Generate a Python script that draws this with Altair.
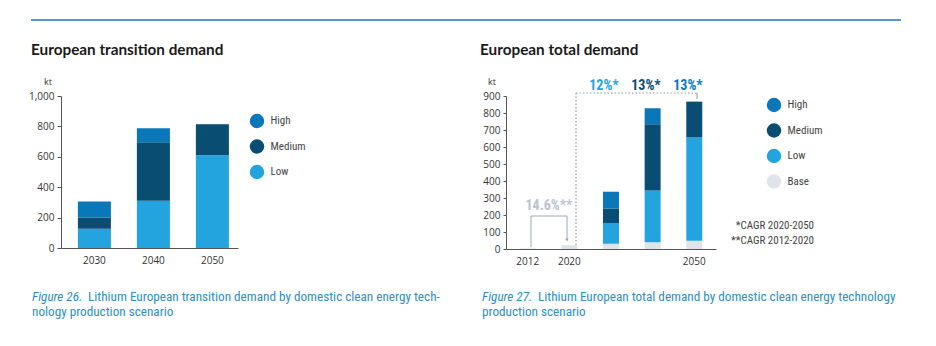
import altair as alt
import pandas as pd

# ---------------- data ----------------
left_years = ["2030", "2040", "2050"]
left_low = [127, 311, 610]
left_medium = [74, 385, 204]
left_high = [105, 92, 0]

right_years = ["2012", "2020", "2030", "2040", "2050"]
right_base = [3, 23, 31, 39, 49]
right_low = [0, 0, 122, 305, 608]
right_medium = [0, 0, 84, 390, 210]
right_high = [0, 0, 100, 94, 0]

scen_left = ["High", "Medium", "Low"]
scen_right = ["High", "Medium", "Low", "Base"]
scen_colors = {"High": "#0a77b8", "Medium": "#0a4d73", "Low": "#23a4de", "Base": "#dfe4ea"}
stack_order = {"Base": 0, "Low": 1, "Medium": 2, "High": 3}

cagr_labels = ["12%*", "13%*", "13%*"]
cagr_colors = ["#23a4de", "#0a4d73", "#0a77b8"]

left_rows = []
for i, yr in enumerate(left_years):
    for s, vals in (("Low", left_low), ("Medium", left_medium), ("High", left_high)):
        left_rows.append({"year": yr, "scenario": s, "value": vals[i], "ord": stack_order[s]})
left_df = pd.DataFrame(left_rows)

right_rows = []
for i, yr in enumerate(right_years):
    for s, vals in (("Base", right_base), ("Low", right_low), ("Medium", right_medium), ("High", right_high)):
        right_rows.append({"year": yr, "scenario": s, "value": vals[i], "ord": stack_order[s]})
right_df = pd.DataFrame(right_rows)

NUM_FONT = "Open Sans"
NARROW = "Liberation Sans Narrow, Roboto Condensed, Roboto, sans-serif"
TITLE_FONT = "Lato"

legend_common = dict(
    orient="none", title=None, symbolType="circle", symbolSize=210,
    symbolStrokeWidth=0, labelFont=NARROW, labelFontSize=11, labelColor="#444444",
    labelOffset=6, rowPadding=10.5, padding=0, symbolOpacity=1,
)

# ---------------- left panel ----------------
left_bars = alt.Chart(left_df).mark_bar().encode(
    x=alt.X("year:N", sort=left_years,
            scale=alt.Scale(range=[61, 238], paddingInner=0.44, paddingOuter=0.22, align=0.65),
            axis=alt.Axis(orient="bottom", offset=-98, title=None, labelAngle=0, ticks=False,
                          domainColor="#555555", labelFont=NUM_FONT, labelFontSize=10,
                          labelColor="#333333", labelPadding=7)),
    y=alt.Y("value:Q", stack="zero",
            scale=alt.Scale(domain=[0, 1000], range=[248, 96], nice=False),
            axis=alt.Axis(orient="left", offset=-61, title=None, values=[0, 200, 400, 600, 800, 1000],
                          format=",.0f", tickSize=4, tickColor="#555555", domainColor="#555555",
                          labelPadding=3, grid=False, labelFont=NUM_FONT, labelFontSize=10,
                          labelColor="#333333")),
    color=alt.Color("scenario:N",
                    scale=alt.Scale(domain=scen_left, range=[scen_colors[s] for s in scen_left]),
                    legend=alt.Legend(legendX=249.5, legendY=113.5, **legend_common)),
    order=alt.Order("ord:Q", sort="ascending"),
)

# ---------------- right panel ----------------
right_bars = alt.Chart(right_df).mark_bar().encode(
    x=alt.X("year:N", sort=right_years,
            scale=alt.Scale(range=[506, 716], paddingInner=0.616, paddingOuter=0.33),
            axis=alt.Axis(orient="bottom", offset=-97, title=None, labelAngle=0, ticks=False,
                          domainColor="#555555", labelFont=NUM_FONT, labelFontSize=10,
                          labelColor="#333333", labelPadding=7,
                          labelExpr="(datum.value == '2030' || datum.value == '2040') ? '' : datum.value")),
    y=alt.Y("value:Q", stack="zero",
            scale=alt.Scale(domain=[0, 900], range=[249, 96], nice=False),
            axis=alt.Axis(orient="left", offset=-506, title=None,
                          values=[0, 100, 200, 300, 400, 500, 600, 700, 800, 900],
                          tickSize=3, tickColor="#555555", domainColor="#555555",
                          labelPadding=3, grid=False, labelFont=NUM_FONT, labelFontSize=10,
                          labelColor="#333333")),
    color=alt.Color("scenario:N",
                    scale=alt.Scale(domain=scen_right, range=[scen_colors[s] for s in scen_right]),
                    legend=alt.Legend(legendX=766.5, legendY=97.5, **legend_common)),
    order=alt.Order("ord:Q", sort="ascending"),
)

# ---------------- decorations ----------------
dummy = alt.Data(values=[{"a": 1}])


def txt(text, x, y, size, color, font=NARROW, weight="normal", align="left",
        baseline="alphabetic", style="normal"):
    return alt.Chart(dummy).mark_text(
        text=text, font=font, fontSize=size, color=color, fontWeight=weight,
        align=align, baseline=baseline, fontStyle=style,
    ).encode(x=alt.value(x), y=alt.value(y))


def rule(x, y, x2=None, y2=None, color="#9aa8b8", width=1.0, dash=None):
    kw = dict(color=color, strokeWidth=width)
    if dash:
        kw["strokeDash"] = dash
    enc = dict(x=alt.value(x), y=alt.value(y))
    if x2 is not None:
        enc["x2"] = alt.value(x2)
    if y2 is not None:
        enc["y2"] = alt.value(y2)
    return alt.Chart(dummy).mark_rule(**kw).encode(**enc)


CAP = "#2d8ec5"
CAP_SIZE = 13.2

decor = [
    rule(31, 20, x2=901, color="#5b95c8", width=2),
    txt("European transition demand", 31, 55, 15.3, "#1a1a1a", font=TITLE_FONT, weight="bold"),
    txt("European total demand", 480, 55, 15.3, "#1a1a1a", font=TITLE_FONT, weight="bold"),
    txt("kt", 48, 82, 9, "#333333", font=NUM_FONT, align="center", baseline="middle"),
    txt("kt", 492, 82, 9, "#333333", font=NUM_FONT, align="center", baseline="middle"),
    # CAGR dotted bracket
    rule(576, 93, y2=247, color="#8a9aab", width=1.2, dash=[1.5, 2]),
    rule(576, 93, x2=697, color="#8a9aab", width=1.2, dash=[1.5, 2]),
    rule(697, 93, y2=99, color="#8a9aab", width=1),
    txt(cagr_labels[0], 604, 90, 14, cagr_colors[0], weight="bold", align="center"),
    txt(cagr_labels[1], 646, 90, 14, cagr_colors[1], weight="bold", align="center"),
    txt(cagr_labels[2], 688, 90, 14, cagr_colors[2], weight="bold", align="center"),
    # 2012-2020 bracket
    rule(531, 216, y2=247, color="#9aa8b8"),
    rule(531, 216, x2=567, color="#9aa8b8"),
    rule(567, 216, y2=240, color="#9aa8b8"),
    alt.Chart(dummy).mark_point(shape="triangle-down", filled=True, size=12, color="#9aa8b8",
                                opacity=1).encode(x=alt.value(567), y=alt.value(240)),
    txt("14.6%**", 549, 210, 14, "#b8c4d0", weight="bold", align="center"),
    # footnotes
    txt("*CAGR 2020-2050", 814, 229, 11, "#444444", align="right"),
    txt("**CAGR 2012-2020", 814, 244, 11, "#444444", align="right"),
    # captions
    txt("Figure 26.", 32, 301, CAP_SIZE, CAP, style="italic"),
    txt("Lithium European transition demand by domestic clean energy tech-", 88, 301, CAP_SIZE, CAP),
    txt("nology production scenario", 32, 316, CAP_SIZE, CAP),
    txt("Figure 27.", 482, 301, CAP_SIZE, CAP, style="italic"),
    txt("Lithium European total demand by domestic clean energy technology", 538, 301, CAP_SIZE, CAP),
    txt("production scenario", 482, 316, CAP_SIZE, CAP),
]

chart = alt.layer(left_bars, right_bars, *decor).resolve_scale(
    x="independent", y="independent", color="independent"
).properties(
    width=936, height=346, autosize=alt.AutoSizeParams(type="none"), padding=0,
    background="white",
).configure_view(strokeWidth=0)

chart.save("out.html", embed_options={"renderer": "svg", "actions": False})
